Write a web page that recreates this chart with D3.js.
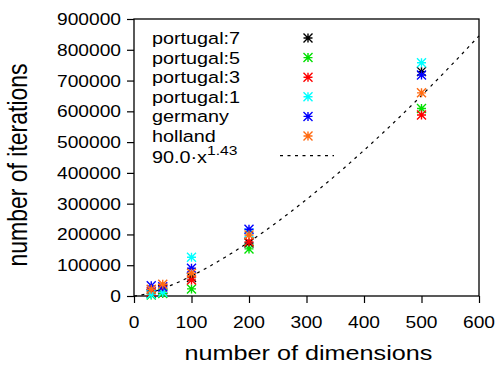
<!DOCTYPE html>
<html>
<head>
<meta charset="utf-8">
<script src="https://cdn.jsdelivr.net/npm/d3@7"></script>
<style>
  html, body { margin: 0; padding: 0; background: #fff; }
  svg { display: block; }
  text { font-family: "Liberation Sans", Arial, Helvetica, sans-serif; fill: #000; }
</style>
</head>
<body>
<svg id="chart" width="497" height="365"></svg>
<script>
// Problem sizes (number of dimensions) at which each instance was measured
const dimensions = [30, 50, 100, 200, 500];

// Iterations needed per instance, one value per dimension above
const portugal7 = [9000, 20000, 60000, 172000, 729000];
const portugal5 = [3000, 8000, 23000, 153000, 609000];
const portugal3 = [14000, 25000, 52000, 176000, 588000];
const portugal1 = [6000, 12000, 126000, 205000, 758000];
const germany   = [33000, 30000, 90000, 217000, 718000];
const holland   = [22000, 38000, 74000, 198000, 660000];

const seriesNames  = ["portugal:7", "portugal:5", "portugal:3", "portugal:1", "germany", "holland"];
const seriesValues = [portugal7, portugal5, portugal3, portugal1, germany, holland];
const seriesColors = ["#000000", "#00e000", "#ff0000", "#00ffff", "#0000ff", "#ff6a10"];

// Power-law fit: coefficient and exponent
const fitCoef = 90.0;
const fitExp = 1.43;

const xTicks = [0, 100, 200, 300, 400, 500, 600];
const yTicks = [0, 100000, 200000, 300000, 400000, 500000, 600000, 700000, 800000, 900000];

const svg = d3.select("#chart");
const mLeft = 134, mRight = 479, mTop = 19, mBottom = 296;
const sx = 1.2; // horizontal glyph stretch

const x = d3.scaleLinear().domain([0, 600]).range([mLeft, mRight]);
const y = d3.scaleLinear().domain([0, 900000]).range([mBottom, mTop]);

function label(parent, tx, ty, str, size, anchor) {
  return parent.append("text")
    .attr("transform", `translate(${tx},${ty}) scale(${sx},1)`)
    .attr("text-anchor", anchor)
    .style("font-size", size + "px")
    .text(str);
}

// Axes with outward ticks
const xAxis = svg.append("g")
  .attr("transform", `translate(0,${mBottom})`)
  .call(d3.axisBottom(x).tickValues(xTicks).tickSize(7).tickSizeOuter(0).tickFormat(""));
const yAxis = svg.append("g")
  .attr("transform", `translate(${mLeft},0)`)
  .call(d3.axisLeft(y).tickValues(yTicks).tickSize(7).tickSizeOuter(0).tickFormat(""));
[xAxis, yAxis].forEach(g => {
  g.select(".domain").remove();
  g.selectAll(".tick line").attr("stroke", "#000").attr("stroke-width", 1.2);
});

// Tick labels
xTicks.forEach(v => label(svg, x(v), 328, String(v), 16, "middle"));
yTicks.forEach(v => label(svg, 121, y(v) + 6, String(v), 16, "end"));

// Frame
svg.append("rect")
  .attr("x", mLeft).attr("y", mTop)
  .attr("width", mRight - mLeft).attr("height", mBottom - mTop)
  .attr("fill", "none").attr("stroke", "#000").attr("stroke-width", 1.3);

// Axis titles
label(svg, (mLeft + mRight) / 2 + 2, 360, "number of dimensions", 21, "middle");
svg.append("text")
  .attr("transform", `translate(27,165) scale(${sx},1) rotate(-90)`)
  .attr("text-anchor", "middle")
  .style("font-size", "23px")
  .text("number of iterations");

// Asterisk marker path centred on 0,0
const r = 4.5;
const starPath = `M${-r},0H${r}M0,${-r}V${r}M${-r},${-r}L${r},${r}M${-r},${r}L${r},${-r}`;

const plot = svg.append("g");

// Fit curve
const fitPts = d3.range(0, 601, 2).map(d => [d, fitCoef * Math.pow(d, fitExp)]);
const line = d3.line().x(d => x(d[0])).y(d => y(d[1]));
plot.append("path")
  .attr("d", line(fitPts))
  .attr("fill", "none")
  .attr("stroke", "#000")
  .attr("stroke-width", 1.2)
  .attr("stroke-dasharray", "3,4.5");

// Data points
seriesValues.forEach((vals, i) => {
  plot.append("g")
    .selectAll("path")
    .data(vals.map((v, j) => [dimensions[j], v]))
    .join("path")
    .attr("transform", d => `translate(${x(d[0])},${y(d[1])})`)
    .attr("d", starPath)
    .attr("stroke", seriesColors[i])
    .attr("stroke-width", 1.4)
    .attr("fill", "none");
});

// Legend
const legend = svg.append("g");
const rowY0 = 38, rowH = 19.6;
seriesNames.forEach((name, i) => {
  const cy = rowY0 + i * rowH;
  label(legend, 152, cy + 6, name, 16.5, "start");
  legend.append("path")
    .attr("transform", `translate(308,${cy})`)
    .attr("d", starPath)
    .attr("stroke", seriesColors[i])
    .attr("stroke-width", 1.4)
    .attr("fill", "none");
});
const fitY = rowY0 + 6 * rowH;
const fitLabel = legend.append("text")
  .attr("transform", `translate(152,${fitY + 7}) scale(${sx},1)`)
  .style("font-size", "16.5px");
fitLabel.append("tspan").text(fitCoef.toFixed(1) + "\u00b7x");
fitLabel.append("tspan").attr("dy", -8).style("font-size", "13px").text(String(fitExp));
legend.append("line")
  .attr("x1", 280).attr("x2", 334)
  .attr("y1", fitY).attr("y2", fitY)
  .attr("stroke", "#000").attr("stroke-width", 1.2)
  .attr("stroke-dasharray", "3,4.5");
</script>
</body>
</html>
